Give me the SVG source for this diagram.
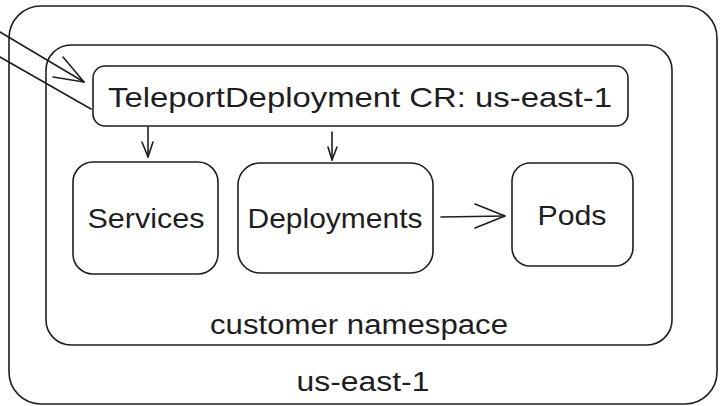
<svg xmlns="http://www.w3.org/2000/svg" width="722" height="406" viewBox="0 0 722 406">
  <style>
    .box { fill: none; stroke: #1e1e1e; stroke-width: 1.6; }
    .edge { fill: none; stroke: #1e1e1e; stroke-width: 1.6; stroke-linecap: round; stroke-linejoin: round; }
    .label { font-family: "Liberation Sans", "DejaVu Sans", sans-serif; fill: #1e1e1e; font-size: 27px; }
    .big { font-size: 28px; }
  </style>
  <rect width="722" height="406" fill="#ffffff"/>

  <!-- region container -->
  <g id="region-us-east-1">
    <rect class="box" x="9" y="6" width="708" height="398" rx="32" ry="32"/>
    <text class="label" x="363" y="391" text-anchor="middle" textLength="133" lengthAdjust="spacingAndGlyphs">us-east-1</text>
  </g>

  <!-- namespace container -->
  <g id="namespace-customer">
    <rect class="box" x="46" y="45" width="626" height="300" rx="25" ry="25"/>
    <text class="label" x="359" y="334" text-anchor="middle" textLength="298" lengthAdjust="spacingAndGlyphs">customer namespace</text>
  </g>

  <!-- custom resource -->
  <g id="teleport-deployment-cr">
    <rect class="box" x="93" y="66" width="535" height="60" rx="12" ry="12"/>
    <text class="label big" x="360" y="107" text-anchor="middle" textLength="504" lengthAdjust="spacingAndGlyphs">TeleportDeployment CR: us-east-1</text>
  </g>

  <g id="services">
    <rect class="box" x="73" y="162" width="145" height="112" rx="20" ry="20"/>
    <text class="label big" x="146" y="228" text-anchor="middle" textLength="117" lengthAdjust="spacingAndGlyphs">Services</text>
  </g>

  <g id="deployments">
    <rect class="box" x="238" y="163" width="195" height="110" rx="22" ry="22"/>
    <text class="label big" x="335" y="228" text-anchor="middle" textLength="175" lengthAdjust="spacingAndGlyphs">Deployments</text>
  </g>

  <g id="pods">
    <rect class="box" x="512" y="163" width="121" height="103" rx="18" ry="18"/>
    <text class="label big" x="572" y="225" text-anchor="middle" textLength="69" lengthAdjust="spacingAndGlyphs">Pods</text>
  </g>

  <!-- connectors -->
  <g id="connectors">
    <!-- incoming from outside the frame -->
    <path class="edge" d="M0 32 L84 82"/>
    <path class="edge" d="M63 57 L84 82 L53 77"/>
    <path class="edge" d="M0 57 L91 109"/>
    <!-- CR to Services -->
    <path class="edge" d="M148 127 L148 157"/>
    <path class="edge" d="M142 142 L148 157 L153 142"/>
    <!-- CR to Deployments -->
    <path class="edge" d="M332 132 L332 160"/>
    <path class="edge" d="M328 147 L332 160 L337 147"/>
    <!-- Deployments to Pods -->
    <path class="edge" d="M441 217 L505 216"/>
    <path class="edge" d="M475 204 L505 216 L475 228"/>
  </g>
</svg>
